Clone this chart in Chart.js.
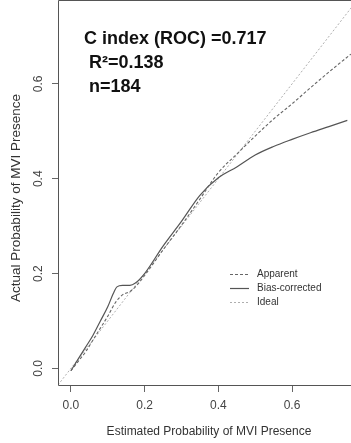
<!DOCTYPE html>
<html><head><meta charset="utf-8">
<script src="https://cdn.jsdelivr.net/npm/chart.js@4/dist/chart.umd.min.js"></script>
<style>html,body{margin:0;padding:0;background:#fff;}#wrap{width:351px;height:443px;position:relative;}</style>
</head><body><div id="wrap"><canvas id="c" width="351" height="443"></canvas></div>
<script>
// Data
const biasX = [0, 0.02, 0.04, 0.06, 0.08, 0.1, 0.115, 0.125, 0.14, 0.16, 0.175, 0.2, 0.25, 0.3, 0.35, 0.4, 0.45, 0.5, 0.55, 0.6, 0.65, 0.7, 0.75];
const biasY = [-0.005, 0.02, 0.045, 0.07, 0.1, 0.13, 0.158, 0.172, 0.175, 0.175, 0.18, 0.2, 0.258, 0.31, 0.365, 0.402, 0.425, 0.45, 0.468, 0.483, 0.497, 0.51, 0.523];
const appX = [0, 0.02, 0.04, 0.06, 0.08, 0.1, 0.12, 0.14, 0.16, 0.175, 0.2, 0.25, 0.3, 0.35, 0.4, 0.45, 0.5, 0.55, 0.6, 0.65, 0.7, 0.76];
const appY = [-0.005, 0.015, 0.035, 0.06, 0.085, 0.11, 0.138, 0.155, 0.162, 0.172, 0.196, 0.25, 0.302, 0.357, 0.413, 0.452, 0.49, 0.526, 0.558, 0.592, 0.625, 0.663];
const idealX = [-0.035, 0.78];
const idealY = [-0.035, 0.78];
const tickValues = [0, 0.2, 0.4, 0.6];
const tickLabels = ['0.0', '0.2', '0.4', '0.6'];
const legendLabels = ['Apparent', 'Bias-corrected', 'Ideal'];
const statLines = ['C index (ROC) =0.717', 'R\u00b2=0.138', 'n=184'];
const xTitle = 'Estimated Probability of MVI Presence';
const yTitle = 'Actual Probability of MVI Presence';

const toPts = (xs, ys) => xs.map((x, i) => ({x: x, y: ys[i]}));

const styles = [
  {color: '#666', width: 1.1, dash: [3, 2]},
  {color: '#555', width: 1.2, dash: []},
  {color: '#9a9a9a', width: 0.8, dash: [2, 2]}
];

const decor = {
  id: 'decor',
  afterDraw(chart) {
    const ctx = chart.ctx, a = chart.chartArea;
    const ys = chart.scales.y;
    ctx.save();
    // box (left, top, bottom)
    ctx.strokeStyle = '#555'; ctx.lineWidth = 1;
    ctx.beginPath();
    ctx.moveTo(360, Math.round(a.top) + 0.5);
    ctx.lineTo(Math.round(a.left) + 0.5, Math.round(a.top) + 0.5);
    ctx.lineTo(Math.round(a.left) + 0.5, Math.round(a.bottom) + 0.5);
    ctx.lineTo(360, Math.round(a.bottom) + 0.5);
    ctx.stroke();
    // y tick labels (rotated)
    ctx.fillStyle = '#444';
    ctx.font = '12px "Liberation Sans", Arial, sans-serif';
    ctx.textAlign = 'center'; ctx.textBaseline = 'middle';
    tickValues.forEach((v, i) => {
      const py = ys.getPixelForValue(v);
      ctx.save(); ctx.translate(39, py); ctx.rotate(-Math.PI / 2);
      ctx.fillText(tickLabels[i], 0, 0); ctx.restore();
    });
    // y title
    ctx.save(); ctx.translate(16, 198); ctx.rotate(-Math.PI / 2);
    ctx.fillStyle = '#333';
    ctx.font = '13.5px "Liberation Sans", Arial, sans-serif';
    ctx.fillText(yTitle, 0, 0); ctx.restore();
    // x title
    ctx.fillStyle = '#333';
    ctx.font = '12px "Liberation Sans", Arial, sans-serif';
    ctx.fillText(xTitle, 209, 432);
    // stats
    ctx.fillStyle = '#111';
    ctx.font = 'bold 18px "Liberation Sans", Arial, sans-serif';
    ctx.textAlign = 'left'; ctx.textBaseline = 'alphabetic';
    ctx.fillText(statLines[0], 84, 44);
    ctx.fillText(statLines[1], 89, 68);
    ctx.fillText(statLines[2], 89, 92);
    // legend
    ctx.font = '10px "Liberation Sans", Arial, sans-serif';
    ctx.textBaseline = 'middle';
    const rows = [274, 288, 302];
    legendLabels.forEach((lab, i) => {
      const s = styles[i];
      ctx.strokeStyle = s.color; ctx.lineWidth = s.width; ctx.setLineDash(s.dash);
      ctx.beginPath(); ctx.moveTo(230, rows[i] + 0.5); ctx.lineTo(249, rows[i] + 0.5); ctx.stroke();
      ctx.setLineDash([]);
      ctx.fillStyle = '#333';
      ctx.fillText(lab, 257, rows[i]);
    });
    ctx.restore();
  }
};

new Chart(document.getElementById('c'), {
  type: 'scatter',
  data: {
    datasets: [
      {label: legendLabels[0], data: toPts(appX, appY)},
      {label: legendLabels[1], data: toPts(biasX, biasY)},
      {label: legendLabels[2], data: toPts(idealX, idealY)}
    ].map((d, i) => Object.assign(d, {
      showLine: true, pointRadius: 0, borderColor: styles[i].color,
      borderWidth: styles[i].width, borderDash: styles[i].dash,
      cubicInterpolationMode: 'monotone', fill: false
    }))
  },
  options: {
    responsive: false, animation: false,
    layout: {padding: 0},
    plugins: {legend: {display: false}, tooltip: {enabled: false}},
    scales: {
      x: {
        type: 'linear', min: -0.035, max: 0.76,
        afterBuildTicks: s => { s.ticks = tickValues.map(v => ({value: v})); },
        afterFit: s => { s.height = 58; },
        grid: {drawOnChartArea: false, drawTicks: true, tickLength: 7, color: '#666', lineWidth: 1},
        border: {display: false},
        ticks: {padding: 6, color: '#444', font: {size: 12, family: '"Liberation Sans", Arial, sans-serif'},
          callback: (v) => tickLabels[tickValues.indexOf(v)] ?? ''}
      },
      y: {
        type: 'linear', min: -0.035, max: 0.777,
        afterBuildTicks: s => { s.ticks = tickValues.map(v => ({value: v})); },
        afterFit: s => { s.width = 58; },
        grid: {drawOnChartArea: false, drawTicks: true, tickLength: 6, color: '#666', lineWidth: 1},
        border: {display: false},
        ticks: {display: false}
      }
    }
  },
  plugins: [decor]
});
</script></body></html>
